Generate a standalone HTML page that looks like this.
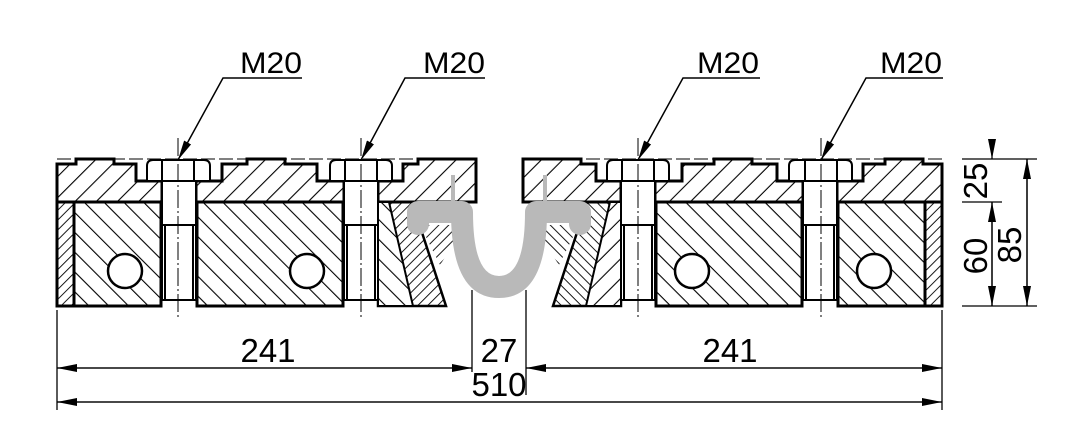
<!DOCTYPE html>
<html><head><meta charset="utf-8"><style>
html,body{margin:0;padding:0;background:#fff}
svg{display:block}
text{font-family:"Liberation Sans",sans-serif;fill:#000}
</style></head><body>
<svg width="1077" height="429" viewBox="0 0 1077 429" xmlns="http://www.w3.org/2000/svg">
<defs>
<pattern id="hA" width="15" height="15" patternUnits="userSpaceOnUse" patternTransform="rotate(45)"><line x1="0" y1="0" x2="0" y2="15" stroke="#000" stroke-width="2.2"/></pattern>
<pattern id="hA2" width="15" height="15" patternUnits="userSpaceOnUse" patternTransform="rotate(-45)"><line x1="0" y1="0" x2="0" y2="15" stroke="#000" stroke-width="2.2"/></pattern>
<pattern id="hB" width="14" height="14" patternUnits="userSpaceOnUse" patternTransform="rotate(-45)"><line x1="0" y1="0" x2="0" y2="14" stroke="#000" stroke-width="2.2"/></pattern>
<pattern id="hB2" width="14" height="14" patternUnits="userSpaceOnUse" patternTransform="rotate(45)"><line x1="0" y1="0" x2="0" y2="14" stroke="#000" stroke-width="2.2"/></pattern>
<pattern id="hC" width="7" height="7" patternUnits="userSpaceOnUse" patternTransform="rotate(45)"><line x1="0" y1="0" x2="0" y2="7" stroke="#000" stroke-width="1.8"/></pattern>
<pattern id="hC2" width="7" height="7" patternUnits="userSpaceOnUse" patternTransform="rotate(-45)"><line x1="0" y1="0" x2="0" y2="7" stroke="#000" stroke-width="1.8"/></pattern>
<marker id="ar" viewBox="0 0 20 8" refX="20" refY="4" markerWidth="20" markerHeight="8" markerUnits="userSpaceOnUse" orient="auto"><path d="M0,0 L20,4 L0,8 Z" fill="#000"/></marker>
<g id="half">
  <line x1="57" y1="159" x2="476" y2="159" stroke="#000" stroke-width="1" stroke-dasharray="14,4"/>
  <path d="M57,164 H76 V159 H114 V164 H136 V181 H162 V202 H57 Z" style="fill:var(--A)" stroke="#000" stroke-width="3"/>
  <path d="M196,202 V181 H222 V164 H247 V159 H285 V164 H317 V181 H344 V202 Z" style="fill:var(--A)" stroke="#000" stroke-width="3"/>
  <path d="M378,202 V181 H403 V164 H418 V159 H476 V202 Z" style="fill:var(--A)" stroke="#000" stroke-width="3"/>
  <rect x="57" y="202" width="17" height="104" style="fill:var(--C)" stroke="#000" stroke-width="3"/>
  <rect x="74" y="202" width="87" height="104" style="fill:var(--B)" stroke="#000" stroke-width="3"/>
  <rect x="197" y="202" width="146" height="104" style="fill:var(--B)" stroke="#000" stroke-width="3"/>
  <circle cx="125" cy="271" r="17" fill="#fff" stroke="#000" stroke-width="2.5"/>
  <circle cx="307" cy="271" r="17" fill="#fff" stroke="#000" stroke-width="2.5"/>
  <path d="M378,202 H412 L446,306 H378 Z" fill="url(#hC)" stroke="#000" stroke-width="2.5"/>
  <path d="M378,202 H389 L413,306 H378 Z" fill="#fff" stroke="none"/>
  <path d="M378,202 H389 L413,306 H378 Z" fill="url(#hB)" stroke="#000" stroke-width="2"/>
  <path d="M420,225 L466,225 L440,265 Z" fill="url(#hC)" stroke="none"/>
  <g fill="#fff" stroke="#000" stroke-width="2">
    <path d="M147,181 V166 Q147,160 153,160 H204 Q210,160 210,166 V181 Z"/>
    <line x1="162" y1="160" x2="162" y2="181"/><line x1="194" y1="160" x2="194" y2="181"/>
    <rect x="162" y="181" width="34" height="119"/>
    <line x1="165" y1="225" x2="165" y2="300"/><line x1="193" y1="225" x2="193" y2="300"/>
    <line x1="162" y1="225" x2="196" y2="225"/>
    <path d="M330,181 V166 Q330,160 336,160 H386 Q392,160 392,166 V181 Z"/>
    <line x1="345" y1="160" x2="345" y2="181"/><line x1="377" y1="160" x2="377" y2="181"/>
    <rect x="344" y="181" width="34" height="119"/>
    <line x1="347" y1="225" x2="347" y2="300"/><line x1="375" y1="225" x2="375" y2="300"/>
    <line x1="344" y1="225" x2="378" y2="225"/>
  </g>
  <g stroke="#000" stroke-width="1" stroke-dasharray="18,3,2,3">
    <line x1="178" y1="138" x2="178" y2="318"/>
    <line x1="361" y1="138" x2="361" y2="318"/>
  </g>
</g>
</defs>
<use href="#half" style="--A:url(#hA);--B:url(#hB);--C:url(#hC)"/>
<use href="#half" transform="translate(999,0) scale(-1,1)" style="--A:url(#hA2);--B:url(#hB2);--C:url(#hC2)"/>
<!-- gray seal -->
<path d="M418,224 V212 H462 C462,258 472,287 499,287 C526,287 536,258 536,212 H580 V224" fill="none" stroke="#b9b9b9" stroke-width="22" stroke-linejoin="round" stroke-linecap="round"/>
<line x1="453" y1="175" x2="453" y2="202" stroke="#b9b9b9" stroke-width="4"/>
<line x1="545" y1="175" x2="545" y2="202" stroke="#b9b9b9" stroke-width="4"/>
<g stroke="#000" stroke-width="1.5" fill="none">
  <polyline points="302,78 223,78 178,160" marker-end="url(#ar)"/>
  <polyline points="485,78 405,78 361,160" marker-end="url(#ar)"/>
  <polyline points="760,78 683,78 638,160" marker-end="url(#ar)"/>
  <polyline points="943,78 866,78 821,160" marker-end="url(#ar)"/>
</g>
<g font-size="30">
  <text x="240" y="73" textLength="62" lengthAdjust="spacingAndGlyphs">M20</text><text x="423" y="73" textLength="62" lengthAdjust="spacingAndGlyphs">M20</text>
  <text x="697" y="73" textLength="62" lengthAdjust="spacingAndGlyphs">M20</text><text x="880" y="73" textLength="62" lengthAdjust="spacingAndGlyphs">M20</text>
</g>
<g stroke="#000" stroke-width="1.3" fill="none">
  <line x1="57" y1="310" x2="57" y2="410"/><line x1="942" y1="310" x2="942" y2="410"/>
  <line x1="472" y1="290" x2="472" y2="372"/><line x1="526" y1="290" x2="526" y2="395"/>
  <line x1="472" y1="368" x2="57" y2="368" marker-end="url(#ar)"/>
  <line x1="57" y1="368" x2="472" y2="368" marker-end="url(#ar)"/>
  <line x1="526" y1="368" x2="942" y2="368" marker-end="url(#ar)"/>
  <line x1="942" y1="368" x2="526" y2="368" marker-end="url(#ar)"/>
  <line x1="57" y1="402" x2="942" y2="402" marker-end="url(#ar)"/>
  <line x1="942" y1="402" x2="57" y2="402" marker-end="url(#ar)"/>
  <line x1="962" y1="159" x2="1037" y2="159"/>
  <line x1="962" y1="202" x2="1002" y2="202"/>
  <line x1="962" y1="306" x2="1037" y2="306"/>
  <line x1="992" y1="140" x2="992" y2="159" marker-end="url(#ar)"/>
  <line x1="992" y1="306" x2="992" y2="202" marker-end="url(#ar)"/>
  <line x1="992" y1="202" x2="992" y2="306" marker-end="url(#ar)"/>
  <line x1="1027" y1="306" x2="1027" y2="159" marker-end="url(#ar)"/>
  <line x1="1027" y1="159" x2="1027" y2="306" marker-end="url(#ar)"/>
</g>
<g font-size="33" text-anchor="middle">
  <text x="268" y="362">241</text>
  <text x="499" y="362">27</text>
  <text x="499" y="396">510</text>
  <text x="730" y="362">241</text>
  <text transform="translate(987,181) rotate(-90)">25</text>
  <text transform="translate(987,256) rotate(-90)">60</text>
  <text transform="translate(1021,245) rotate(-90)">85</text>
</g>
</svg>
</body></html>
